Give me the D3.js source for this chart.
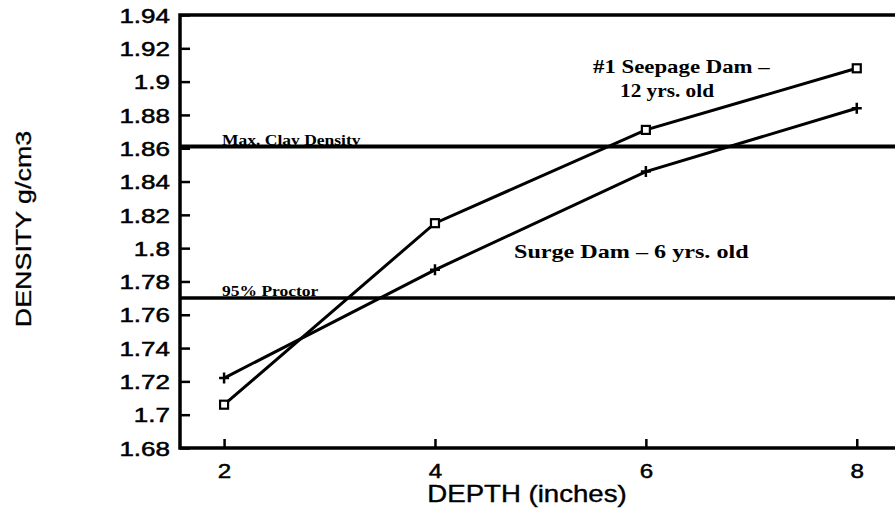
<!DOCTYPE html>
<meta charset="utf-8">
<script src="https://d3js.org/d3.v7.min.js"></script>
<style>
    body { margin: 0; background: #fff; }
    svg { display: block; }
    .sans { font-family: "Liberation Sans", Arial, sans-serif; }
    .serif { font-family: "Liberation Serif", "Times New Roman", serif; font-weight: bold; }
</style>
<div id="viz_area"></div>
<script>
    // depth in inches
    var depth = [2, 4, 6, 8]
    // #1 Seepage Dam - 12 yrs old (open squares)
    var seepage = [1.706, 1.815, 1.871, 1.908]
    // Surge Dam - 6 yrs old (plus marks)
    var surge = [1.722, 1.787, 1.846, 1.884]
    var yTicks = [1.68, 1.7, 1.72, 1.74, 1.76, 1.78, 1.8, 1.82, 1.84, 1.86, 1.88, 1.9, 1.92, 1.94]
    var xTicks = [2, 4, 6, 8]
    var maxClay = 1.861
    var proctor = 1.77

    var W = 895, H = 508
    var margin = { left: 180, top: 15, right: -5, bottom: 60 }
    var w = W - margin.left - margin.right
    var h = H - margin.top - margin.bottom

    var svg = d3.select("#viz_area").append("svg")
        .attr("width", W)
        .attr("height", H)
    var g = svg.append("g")
        .attr("transform", "translate(" + margin.left + "," + margin.top + ")")

    var x = d3.scaleLinear().domain([1.582, 8.41]).range([0, w])
    var y = d3.scaleLinear().domain([1.68, 1.94]).range([h, 0])

    // stretch text horizontally like the scanned original
    function stretch(sel, k) {
        sel.each(function() {
            var len = this.getComputedTextLength()
            d3.select(this).attr("textLength", len * k).attr("lengthAdjust", "spacingAndGlyphs")
        })
    }

    // y axis, ticks pointing inward
    var yAxis = g.append("g")
        .attr("class", "sans")
        .call(d3.axisRight(y).tickValues(yTicks).tickSize(10).tickFormat(function(d) { return String(+d.toFixed(2)) }))
    yAxis.select(".domain").remove()
    yAxis.selectAll("line").attr("stroke", "#000").attr("stroke-width", 2.5)
    yAxis.selectAll("text")
        .attr("x", -10)
        .attr("dy", "0.36em")
        .attr("text-anchor", "end")
        .attr("font-size", 20)
        .attr("fill", "#000")
        .attr("stroke", "#000")
        .attr("stroke-width", 0.5)
        .call(stretch, 1.3)

    // x axis, ticks pointing up
    var xAxis = g.append("g")
        .attr("class", "sans")
        .attr("transform", "translate(0," + h + ")")
        .call(d3.axisTop(x).tickValues(xTicks).tickSize(9).tickFormat(d3.format("d")))
    xAxis.select(".domain").remove()
    xAxis.selectAll("line").attr("stroke", "#000").attr("stroke-width", 2.5)
    xAxis.selectAll("text")
        .attr("y", 30)
        .attr("dy", 0)
        .attr("font-size", 21)
        .attr("fill", "#000")
        .attr("stroke", "#000")
        .attr("stroke-width", 0.5)
        .call(stretch, 1.15)

    // frame: left, top, bottom
    g.append("path")
        .attr("d", "M" + (w + 10) + ",0H0V" + h + "H" + (w + 10))
        .attr("fill", "none")
        .attr("stroke", "#000")
        .attr("stroke-width", 3.5)

    // reference lines
    g.append("line")
        .attr("x1", 0).attr("x2", w + 10)
        .attr("y1", y(maxClay)).attr("y2", y(maxClay))
        .attr("stroke", "#000").attr("stroke-width", 4)
    g.append("line")
        .attr("x1", 0).attr("x2", w + 10)
        .attr("y1", y(proctor)).attr("y2", y(proctor))
        .attr("stroke", "#000").attr("stroke-width", 3.5)

    g.append("text").attr("class", "serif")
        .attr("x", 42).attr("y", y(maxClay) - 2)
        .attr("font-size", 14)
        .text("Max. Clay Density")
        .call(stretch, 1.25)
    g.append("text").attr("class", "serif")
        .attr("x", 42).attr("y", y(proctor) - 2)
        .attr("font-size", 14)
        .text("95% Proctor")
        .call(stretch, 1.25)

    var line = d3.line()
        .x(function(d, i) { return x(depth[i]) })
        .y(function(d) { return y(d) })

    g.append("path").datum(seepage)
        .attr("d", line)
        .attr("fill", "none").attr("stroke", "#000").attr("stroke-width", 3)
    g.append("path").datum(surge)
        .attr("d", line)
        .attr("fill", "none").attr("stroke", "#000").attr("stroke-width", 3)

    g.selectAll(".sq").data(seepage).enter().append("rect")
        .attr("class", "sq")
        .attr("x", function(d, i) { return x(depth[i]) - 4 })
        .attr("y", function(d) { return y(d) - 4 })
        .attr("width", 8).attr("height", 8)
        .attr("fill", "#fff").attr("stroke", "#000").attr("stroke-width", 2.2)

    g.selectAll(".plus").data(surge).enter().append("path")
        .attr("class", "plus")
        .attr("d", function(d, i) {
            var cx = x(depth[i]), cy = y(d)
            return "M" + (cx - 5) + "," + cy + "H" + (cx + 5) + "M" + cx + "," + (cy - 5.5) + "V" + (cy + 5.5)
        })
        .attr("stroke", "#000").attr("stroke-width", 2.5)

    // series labels
    g.append("text").attr("class", "serif")
        .attr("x", 413).attr("y", 58)
        .attr("font-size", 19)
        .text("#1 Seepage Dam –")
        .call(stretch, 1.2)
    g.append("text").attr("class", "serif")
        .attr("x", 440).attr("y", 82)
        .attr("font-size", 19)
        .text("12 yrs. old")
        .call(stretch, 1.12)
    g.append("text").attr("class", "serif")
        .attr("x", 334).attr("y", 243)
        .attr("font-size", 19)
        .text("Surge Dam  –  6 yrs. old")
        .call(stretch, 1.27)

    // axis titles
    svg.append("text").attr("class", "sans")
        .attr("x", 527).attr("y", 502)
        .attr("text-anchor", "middle")
        .attr("font-size", 24)
        .attr("stroke", "#000").attr("stroke-width", 0.4)
        .text("DEPTH (inches)")
        .call(stretch, 1.15)
    svg.append("text").attr("class", "sans")
        .attr("transform", "translate(31,229) rotate(-90)")
        .attr("text-anchor", "middle")
        .attr("font-size", 22)
        .attr("stroke", "#000").attr("stroke-width", 0.3)
        .text("DENSITY g/cm3")
        .call(stretch, 1.22)
</script>
